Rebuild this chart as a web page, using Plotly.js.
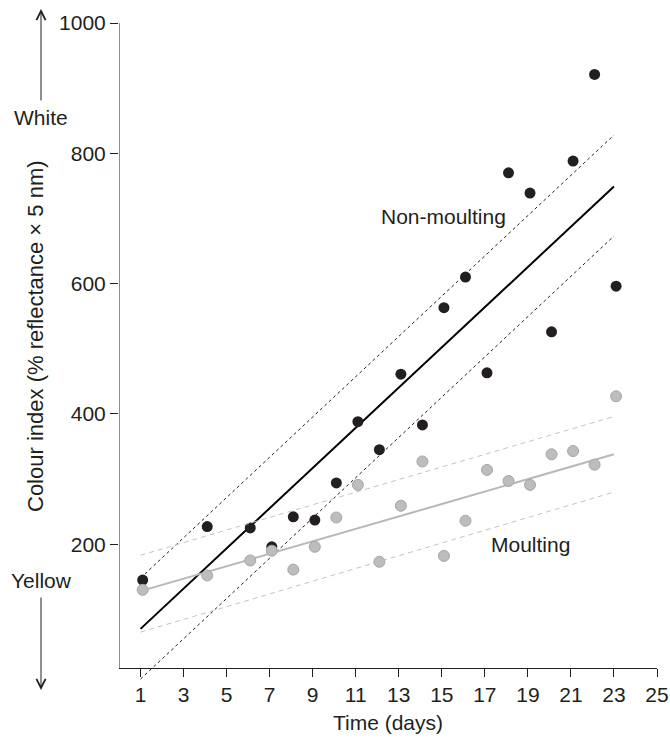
<!DOCTYPE html>
<html>
<head>
<meta charset="utf-8">
<script src="https://cdn.plot.ly/plotly-3.0.1.min.js"></script>
<style>html,body{margin:0;padding:0;background:#fff;}#chart{width:670px;height:738px;}</style>
</head>
<body>
<div id="chart"></div>
<script>
// Sampling days
const days = [1.1, 4.1, 6.1, 7.1, 8.1, 9.1, 10.1, 11.1, 12.1, 13.1, 14.1, 15.1, 16.1, 17.1, 18.1, 19.1, 20.1, 21.1, 22.1, 23.1];
// Colour index, non-moulting birds
const nonMoulting = [145, 227, 225, 196, 242, 237, 294, 388, 345, 461, 383, 563, 610, 463, 770, 739, 526, 788, 921, 596];
// Colour index, moulting birds
const moulting = [130, 152, 175, 190, 161, 196, 241, 291, 173, 259, 327, 182, 236, 314, 297, 291, 338, 343, 322, 427];

// Regression lines and bands (end points)
const fitDays = [1, 23];
const nonMoultingFit = [70, 749];
const nonMoultingUpper = [148, 828];
const nonMoultingLower = [-7, 673];
const moultingFit = [128, 338];
const moultingUpper = [183, 396];
const moultingLower = [65, 280];

// Axis ticks
const xTicks = [1, 3, 5, 7, 9, 11, 13, 15, 17, 19, 21, 23, 25];
const yTicks = [200, 400, 600, 800, 1000];

const ink = '#231f20';
const grey = '#bdbdbd';
const font = 'Liberation Sans, Arial, Helvetica, sans-serif';

const traces = [
  {x: fitDays, y: nonMoultingUpper, mode: 'lines', line: {color: ink, width: 1, dash: '3px,3px'}, hoverinfo: 'skip'},
  {x: fitDays, y: nonMoultingLower, mode: 'lines', line: {color: ink, width: 1, dash: '3px,3px'}, hoverinfo: 'skip'},
  {x: fitDays, y: nonMoultingFit, mode: 'lines', line: {color: '#000', width: 2}, hoverinfo: 'skip'},
  {x: days, y: nonMoulting, mode: 'markers', marker: {color: ink, size: 11, line: {width: 0}}, cliponaxis: false},
  {x: fitDays, y: moultingUpper, mode: 'lines', line: {color: '#c4c4c4', width: 1, dash: '5px,4px'}, hoverinfo: 'skip'},
  {x: fitDays, y: moultingLower, mode: 'lines', line: {color: '#c4c4c4', width: 1, dash: '5px,4px'}, hoverinfo: 'skip'},
  {x: fitDays, y: moultingFit, mode: 'lines', line: {color: '#b8b8b8', width: 2}, hoverinfo: 'skip'},
  {x: days, y: moulting, mode: 'markers', marker: {color: grey, size: 11, line: {color: '#a6a6a6', width: 1}}, cliponaxis: false}
];

const l = 119, r = 13, t = 23, b = 57;
const W = 670, H = 738;
const pw = W - l - r, ph = H - t - b;
const px = v => (v - l) / pw;       // pixel x -> paper
const py = v => (H - b - v) / ph;   // pixel y -> paper

const layout = {
  width: W, height: H,
  margin: {l: l, r: r, t: t, b: b},
  paper_bgcolor: '#fff', plot_bgcolor: '#fff',
  showlegend: false,
  font: {family: font, size: 21, color: ink},
  xaxis: {
    range: [0, 25],
    tickvals: xTicks,
    ticks: 'outside', ticklen: 8, tickcolor: ink, tickwidth: 1,
    showline: true, linecolor: ink, linewidth: 1,
    showgrid: false, zeroline: false,
    anchor: 'free', position: 20 / 1010,
    tickfont: {family: font, size: 21, color: ink},
    title: {text: 'Time (days)', font: {family: font, size: 21, color: ink}, standoff: 10}
  },
  yaxis: {
    range: [-10, 1000],
    tickvals: yTicks,
    ticks: 'outside', ticklen: 8, tickcolor: ink, tickwidth: 1,
    showline: false,
    showgrid: false, zeroline: false,
    tickfont: {family: font, size: 21, color: ink}
  },
  shapes: [
    {type: 'line', xref: 'x', yref: 'y', x0: 0, x1: 0, y0: 10, y1: 1000, line: {color: ink, width: 1}}
  ],
  annotations: [
    {xref: 'paper', yref: 'paper', x: px(35), y: py(336), xanchor: 'center', yanchor: 'middle', textangle: -90,
     text: 'Colour index (% reflectance × 5 nm)', showarrow: false, font: {size: 22, color: ink}},
    {xref: 'x', yref: 'y', x: 15.1, y: 703, xanchor: 'center', yanchor: 'middle', text: 'Non-moulting', showarrow: false, font: {size: 21, color: ink}},
    {xref: 'x', yref: 'y', x: 19.1, y: 200, xanchor: 'center', yanchor: 'middle', text: 'Moulting', showarrow: false, font: {size: 21, color: ink}},
    {xref: 'paper', yref: 'paper', x: px(41), y: py(117), xanchor: 'center', yanchor: 'middle', text: 'White', showarrow: false, font: {size: 21, color: ink}},
    {xref: 'paper', yref: 'paper', x: px(41), y: py(580), xanchor: 'center', yanchor: 'middle', text: 'Yellow', showarrow: false, font: {size: 21, color: ink}},
    {xref: 'paper', yref: 'paper', x: px(41), y: py(9), ax: 0, ay: 93, text: '', showarrow: true, arrowhead: 5, arrowsize: 1.8, arrowwidth: 1, arrowcolor: ink},
    {xref: 'paper', yref: 'paper', x: px(41), y: py(690), ax: 0, ay: -94, text: '', showarrow: true, arrowhead: 5, arrowsize: 1.8, arrowwidth: 1, arrowcolor: ink}
  ]
};

Plotly.newPlot('chart', traces, layout, {displayModeBar: false, staticPlot: true});
</script>
</body>
</html>
